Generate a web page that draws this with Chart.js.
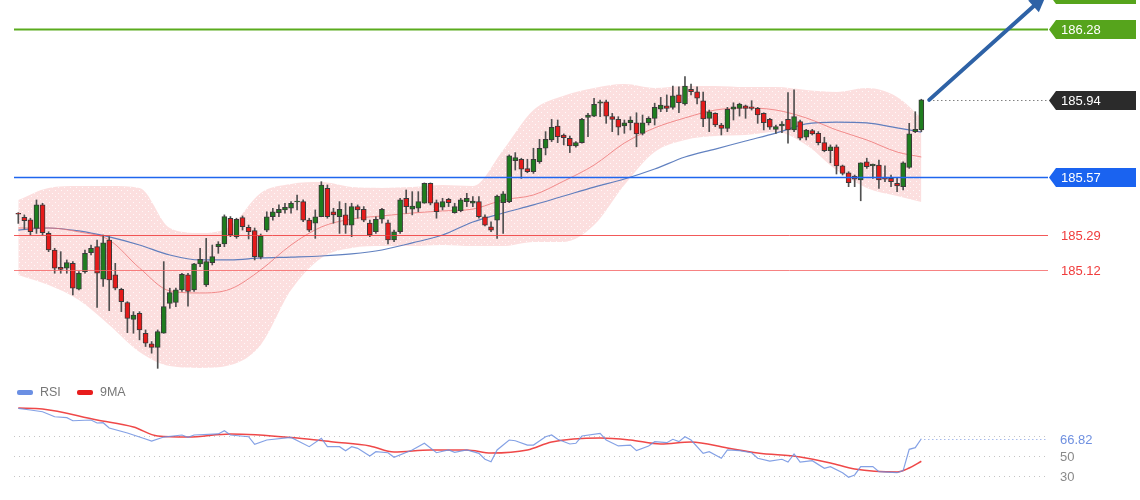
<!DOCTYPE html>
<html>
<head>
<meta charset="utf-8">
<script src="https://cdn.jsdelivr.net/npm/chart.js"></script>
<style>
  html, body { margin:0; padding:0; background:#fff; }
  #wrap { position:relative; width:1140px; height:500px; overflow:hidden; background:#fff; }
  #main { position:absolute; left:0; top:0; }
  #rsi  { position:absolute; left:0; top:380px; }
</style>
</head>
<body>
<div id="wrap">
  <canvas id="main" width="1140" height="380"></canvas>
  <canvas id="rsi" width="1140" height="120"></canvas>
</div>
<script>
// candles, one per bar index 0..149
const opens = [
185.394,185.374,185.362,185.321,185.434,185.297,185.217,185.134,185.129,185.153,
185.028,185.113,185.204,185.233,185.076,185.265,185.097,185.028,184.964,184.883,
184.912,184.816,184.765,184.748,184.816,184.960,184.964,185.025,185.097,185.025,
185.150,185.049,185.156,185.233,185.246,185.370,185.281,185.373,185.326,185.310,
185.183,185.313,185.377,185.397,185.410,185.418,185.448,185.450,185.361,185.346,
185.377,185.514,185.401,185.377,185.386,185.337,185.426,185.413,185.346,185.305,
185.365,185.348,185.265,185.305,185.466,185.413,185.418,185.442,185.538,185.445,
185.423,185.461,185.397,185.406,185.450,185.442,185.450,185.377,185.329,185.361,
185.445,185.450,185.647,185.654,185.609,185.594,185.642,185.707,185.747,185.814,
185.771,185.755,185.718,185.734,185.856,185.862,185.924,185.931,185.859,185.846,
185.814,185.830,185.830,185.779,185.830,185.851,185.895,185.911,185.904,185.964,
185.920,185.991,185.979,185.935,185.851,185.875,185.819,185.803,185.895,185.899,
185.911,185.907,185.899,185.875,185.846,185.798,185.814,185.846,185.795,185.835,
185.760,185.792,185.779,185.734,185.695,185.714,185.622,185.589,185.573,185.554,
185.642,185.622,185.626,185.567,185.562,185.538,185.522,185.615,185.787,185.795];
const highs = [
185.397,185.386,185.370,185.458,185.442,185.305,185.225,185.209,185.169,185.161,
185.113,185.217,185.241,185.265,185.289,185.281,185.153,185.033,184.968,184.920,
184.920,184.832,184.776,184.832,185.161,185.033,185.033,185.105,185.105,185.153,
185.225,185.273,185.241,185.257,185.386,185.378,185.370,185.381,185.337,185.323,
185.294,185.401,185.418,185.434,185.442,185.450,185.482,185.458,185.370,185.410,
185.546,185.530,185.418,185.450,185.442,185.442,185.434,185.426,185.361,185.377,
185.418,185.361,185.313,185.466,185.506,185.498,185.498,185.540,185.540,185.458,
185.466,185.466,185.442,185.466,185.490,185.474,185.474,185.386,185.353,185.482,
185.498,185.675,185.686,185.659,185.654,185.707,185.750,185.787,185.846,185.843,
185.776,185.766,185.739,185.851,185.875,185.948,185.939,185.939,185.875,185.859,
185.843,185.859,185.878,185.867,185.859,185.924,185.952,185.964,186.007,186.003,
186.052,186.016,186.003,185.978,185.891,185.878,185.827,185.904,185.926,185.924,
185.915,185.936,185.904,185.878,185.851,185.819,185.835,185.975,185.988,185.843,
185.798,185.798,185.787,185.760,185.723,185.723,185.626,185.594,185.578,185.637,
185.659,185.631,185.650,185.622,185.578,185.562,185.642,185.827,185.883,185.943];
const lows = [
185.345,185.317,185.289,185.297,185.289,185.209,185.105,185.105,185.105,185.000,
185.025,185.105,185.193,184.941,185.041,184.925,185.025,184.920,184.819,184.816,
184.784,184.752,184.720,184.647,184.816,184.936,184.944,185.017,184.947,185.017,
185.137,185.041,185.145,185.201,185.233,185.281,185.273,185.313,185.270,185.169,
185.174,185.305,185.361,185.377,185.394,185.394,185.410,185.353,185.305,185.273,
185.377,185.370,185.346,185.297,185.297,185.281,185.370,185.353,185.281,185.297,
185.346,185.246,185.257,185.297,185.394,185.386,185.401,185.442,185.434,185.370,
185.410,185.426,185.394,185.401,185.426,185.426,185.370,185.333,185.305,185.273,
185.297,185.445,185.602,185.562,185.589,185.586,185.634,185.675,185.739,185.734,
185.723,185.686,185.712,185.731,185.763,185.859,185.859,185.827,185.787,185.771,
185.779,185.795,185.714,185.771,185.819,185.819,185.883,185.883,185.895,185.878,
185.915,185.964,185.920,185.811,185.787,185.811,185.771,185.787,185.843,185.862,
185.851,185.891,185.827,185.795,185.798,185.779,185.782,185.731,185.787,185.747,
185.747,185.771,185.723,185.690,185.637,185.583,185.578,185.522,185.522,185.454,
185.610,185.562,185.514,185.546,185.522,185.498,185.506,185.610,185.782,185.787];
const closes = [
185.389,185.358,185.305,185.434,185.301,185.217,185.129,185.124,185.156,185.033,
185.105,185.201,185.225,185.105,185.252,185.073,185.033,184.968,184.888,184.904,
184.832,184.768,184.748,184.824,184.944,185.012,185.025,185.100,185.017,185.150,
185.172,185.161,185.185,185.246,185.378,185.289,185.365,185.329,185.305,185.185,
185.284,185.377,185.401,185.413,185.423,185.442,185.451,185.361,185.313,185.377,
185.530,185.377,185.386,185.413,185.337,185.426,185.410,185.361,185.289,185.365,
185.413,185.265,185.305,185.458,185.426,185.429,185.450,185.538,185.442,185.401,
185.450,185.445,185.426,185.458,185.466,185.453,185.377,185.337,185.313,185.477,
185.487,185.670,185.662,185.606,185.594,185.654,185.707,185.750,185.808,185.763,
185.758,185.718,185.734,185.846,185.867,185.919,185.931,185.862,185.846,185.808,
185.830,185.843,185.776,185.830,185.851,185.904,185.915,185.899,185.959,185.926,
186.007,185.979,185.948,185.848,185.883,185.819,185.803,185.895,185.907,185.920,
185.899,185.899,185.867,185.830,185.808,185.811,185.824,185.795,185.859,185.755,
185.795,185.776,185.734,185.695,185.714,185.622,185.586,185.541,185.558,185.637,
185.618,185.631,185.554,185.558,185.546,185.525,185.637,185.776,185.798,185.940];

// bollinger band + moving averages, read every 5 bars
const lineIdx = [0,5,10,15,20,25,30,35,40,45,50,55,60,65,70,75,80,85,90,95,100,105,110,115,120,125,130,135,140,145,149];
const bbUpper = [185.458,185.516,185.525,185.525,185.516,185.323,185.299,185.333,185.492,185.535,185.544,185.520,185.516,185.520,185.530,185.525,185.699,185.891,185.960,185.997,186.016,185.997,186.007,186.007,186.002,186.002,185.988,185.978,185.997,185.954,185.853];
const bbLower = [185.097,185.048,184.976,184.856,184.726,184.658,184.649,184.663,184.760,185.024,185.179,185.227,185.236,185.236,185.241,185.236,185.236,185.256,185.256,185.337,185.530,185.689,185.747,185.766,185.771,185.785,185.723,185.602,185.516,185.477,185.448];
const maMid   = [185.323,185.323,185.304,185.265,185.130,185.020,185.010,185.029,185.121,185.241,185.328,185.366,185.381,185.395,185.405,185.414,185.458,185.482,185.549,185.626,185.732,185.805,185.853,185.891,185.901,185.891,185.853,185.795,185.747,185.689,185.665];
const maSlow  = [185.313,185.323,185.309,185.280,185.241,185.193,185.169,185.169,185.179,185.183,185.188,185.198,185.217,185.251,185.289,185.352,185.395,185.434,185.477,185.520,185.559,185.607,185.665,185.703,185.742,185.780,185.824,185.833,185.829,185.805,185.785];

// price levels on the right
const levelValues = [186.448, 186.28, 185.94, 185.57, 185.29, 185.12];
const levelLabels = ["186.45", "186.28", "185.94", "185.57", "185.29", "185.12"];

// RSI panel
const rsiIdx = [0,2,4,6,8,9,12,13,14,15,18,19,21,22,24,27,28,29,33,34,35,38,39,41,45,48,50,51,53,54,55,56,58,59,61,62,65,67,69,71,72,74,76,77,78,79,81,82,84,85,87,88,89,91,92,93,96,97,99,101,102,104,105,107,108,109,110,111,113,114,116,117,119,121,122,124,126,127,128,129,131,133,134,136,137,138,139,141,142,145,146,147,148,149];
const rsiVal = [96.5,94.9,93.2,88.3,87.4,84.4,85.1,82.2,82.5,77.3,72.4,70.5,66.6,64.6,68.5,70.5,68.2,70.5,71.5,74.7,70.5,68.8,61.4,65.6,68.2,59.1,67.3,59.1,59.1,55.2,59.1,57.5,50.0,54.2,53.2,48.7,55.9,62.4,53.2,55.9,53.6,55.9,52.6,46.8,44.4,55.9,65.6,64.9,60.7,60.7,68.8,70.5,66.3,61.7,62.4,69.5,72.1,65.6,59.8,60.7,55.2,59.8,64.0,63.0,66.3,64.0,68.8,65.6,52.6,54.2,47.8,55.9,55.2,53.2,47.8,45.1,46.8,44.1,52.0,44.1,45.4,38.0,39.6,33.7,29.2,31.5,39.6,39.6,34.7,33.7,35.7,56.5,58.1,66.82];
const maIdx = [0,4,13,19,23,28,35,46,52,58,62,68,74,78,84,88,96,101,106,111,117,122,129,134,138,145,147,149];
const maVal = [96.8,95.9,85.1,78.3,69.5,68.5,71.5,67.6,63.7,59.8,53.9,55.9,55.9,52.9,55.9,63.7,67.6,65.6,61.7,63.7,57.8,52.9,49.0,43.2,37.3,34.4,38.3,44.9];
const rsiTicks = [30, 50, 70];

const FONT = '"Liberation Sans", Arial, sans-serif';
const xRange = { min: -0.71, max: 169.9 };

const pts = (xs, ys) => xs.map((x, i) => ({ x, y: ys[i] }));

// dotted pink texture for the band
function bandPattern(){
  const c = document.createElement('canvas');
  c.width = 6; c.height = 6;
  const g = c.getContext('2d');
  g.fillStyle = 'rgba(248,178,178,0.42)';
  g.fillRect(0, 0, 6, 6);
  g.fillStyle = 'rgba(255,255,255,0.85)';
  g.fillRect(1, 4, 1, 1);
  g.fillRect(4, 1, 1, 1);
  return g.createPattern(c, 'repeat');
}

const up = closes.map((c, i) => c >= opens[i]);

const levelStyles = [
  { color:'#56a41c', line:null, tag:true },
  { color:'#56a41c', line:'#5aab1e', width:2, tag:true },
  { color:'#2b2b2b', line:'dots', width:1, tag:true },
  { color:'#1a63f0', line:'#1f66ee', width:1.5, tag:true },
  { color:'#f03c3c', line:'rgba(240,60,60,0.85)', width:1, tag:false },
  { color:'#f03c3c', line:'rgba(245,100,100,0.8)', width:1, tag:false }
];
const arrowFrom = { x: 150.3, y: 185.94 };
const arrowTo = { x: 169.6, y: 186.445 };

const levelPlugin = {
  id: 'levels',
  afterDatasetsDraw(chart){
    const { ctx, chartArea: a, scales: { x, y } } = chart;
    ctx.save();
    levelValues.forEach((v, i) => {
      const s = levelStyles[i];
      const py = Math.round(y.getPixelForValue(v)) + 0.5;
      if (s.line === 'dots') {
        ctx.strokeStyle = '#444';
        ctx.lineWidth = 1;
        ctx.setLineDash([1, 3]);
        ctx.beginPath();
        ctx.moveTo(x.getPixelForValue(opens.length - 1) + 8, py);
        ctx.lineTo(a.right, py);
        ctx.stroke();
        ctx.setLineDash([]);
      } else if (s.line) {
        ctx.strokeStyle = s.line;
        ctx.lineWidth = s.width;
        ctx.beginPath();
        ctx.moveTo(a.left, py);
        ctx.lineTo(a.right, py);
        ctx.stroke();
      }
      ctx.font = '13px ' + FONT;
      ctx.textBaseline = 'middle';
      if (s.tag) {
        const h = 19, x0 = a.right + 1, x1 = 1136;
        ctx.fillStyle = s.color;
        ctx.beginPath();
        ctx.moveTo(x0, py);
        ctx.lineTo(x0 + 7, py - h / 2);
        ctx.lineTo(x1, py - h / 2);
        ctx.lineTo(x1, py + h / 2);
        ctx.lineTo(x0 + 7, py + h / 2);
        ctx.closePath();
        ctx.fill();
        ctx.fillStyle = '#fff';
      } else {
        ctx.fillStyle = s.color;
      }
      ctx.fillText(levelLabels[i], a.right + 13, py + 1);
    });

    // trend arrow
    const x0 = x.getPixelForValue(arrowFrom.x), y0 = y.getPixelForValue(arrowFrom.y);
    const x1 = x.getPixelForValue(arrowTo.x), y1 = y.getPixelForValue(arrowTo.y);
    const ang = Math.atan2(y1 - y0, x1 - x0);
    const head = 17;
    ctx.strokeStyle = '#2e62a6';
    ctx.fillStyle = '#2e62a6';
    ctx.lineWidth = 4;
    ctx.lineCap = 'round';
    ctx.beginPath();
    ctx.moveTo(x0, y0);
    ctx.lineTo(x1 - Math.cos(ang) * head * 0.8, y1 - Math.sin(ang) * head * 0.8);
    ctx.stroke();
    ctx.beginPath();
    ctx.moveTo(x1, y1);
    ctx.lineTo(x1 - Math.cos(ang) * head + Math.sin(ang) * 8, y1 - Math.sin(ang) * head - Math.cos(ang) * 8);
    ctx.lineTo(x1 - Math.cos(ang) * head - Math.sin(ang) * 8, y1 - Math.sin(ang) * head + Math.cos(ang) * 8);
    ctx.closePath();
    ctx.fill();
    ctx.restore();
  }
};

new Chart(document.getElementById('main'), {
  type: 'bar',
  data: {
    datasets: [
      { // bodies
        type: 'bar',
        data: opens.map((o, i) => ({ x: i, y: [o, closes[i]] })),
        backgroundColor: up.map(u => u ? '#1f7d1f' : '#e61b1b'),
        borderColor: '#3a3a3a',
        borderWidth: 1,
        borderSkipped: false,
        barThickness: 5,
        minBarLength: 1,
        grouped: false,
        order: 0
      },
      { // wicks
        type: 'bar',
        data: lows.map((l, i) => ({ x: i, y: [l, highs[i]] })),
        backgroundColor: '#505050',
        barThickness: 1,
        grouped: false,
        order: 1
      },
      {
        type: 'line',
        data: pts(lineIdx, bbUpper),
        borderColor: 'transparent',
        borderWidth: 0,
        pointRadius: 0,
        cubicInterpolationMode: 'monotone',
        fill: '+1',
        backgroundColor: bandPattern(),
        order: 3
      },
      {
        type: 'line',
        data: pts(lineIdx, bbLower),
        borderColor: 'transparent',
        borderWidth: 0,
        pointRadius: 0,
        cubicInterpolationMode: 'monotone',
        fill: false,
        order: 3
      },
      {
        type: 'line',
        data: pts(lineIdx, maMid),
        borderColor: 'rgba(238,110,110,0.75)',
        borderWidth: 1,
        pointRadius: 0,
        cubicInterpolationMode: 'monotone',
        fill: false,
        order: 2
      },
      {
        type: 'line',
        data: pts(lineIdx, maSlow),
        borderColor: 'rgba(80,115,185,0.9)',
        borderWidth: 1.2,
        pointRadius: 0,
        cubicInterpolationMode: 'monotone',
        fill: false,
        order: 2
      }
    ]
  },
  options: {
    responsive: false,
    animation: false,
    devicePixelRatio: 1,
    layout: { padding: { left: 14, right: 92, top: 0, bottom: 10 } },
    plugins: { legend: { display: false }, tooltip: { enabled: false } },
    scales: {
      x: { type: 'linear', min: xRange.min, max: xRange.max, offset: false, display: false },
      y: { min: 184.639, max: 186.421, display: false }
    }
  },
  plugins: [levelPlugin]
});

const rsiPlugin = {
  id: 'rsiDeco',
  beforeDatasetsDraw(chart){
    const { ctx, chartArea: a, scales: { y } } = chart;
    ctx.save();
    ctx.strokeStyle = '#c4c4c4';
    ctx.lineWidth = 1;
    ctx.setLineDash([1, 4]);
    rsiTicks.forEach(t => {
      const py = Math.round(y.getPixelForValue(t)) + 0.5;
      ctx.beginPath();
      ctx.moveTo(a.left, py);
      ctx.lineTo(a.right, py);
      ctx.stroke();
    });
    ctx.restore();
  },
  afterDatasetsDraw(chart){
    const { ctx, chartArea: a, scales: { x, y } } = chart;
    ctx.save();
    ctx.font = '13px ' + FONT;
    ctx.textBaseline = 'middle';
    ctx.fillStyle = '#8a8a8a';
    rsiTicks.filter(t => t < 70).forEach(t => {
      ctx.fillText(String(t), a.right + 12, y.getPixelForValue(t) + 1);
    });
    // last RSI value
    const last = rsiVal[rsiVal.length - 1];
    const px = x.getPixelForValue(rsiIdx[rsiIdx.length - 1]);
    const py = Math.round(y.getPixelForValue(last)) + 0.5;
    ctx.strokeStyle = '#7d9be3';
    ctx.setLineDash([1, 3]);
    ctx.beginPath();
    ctx.moveTo(px + 3, py);
    ctx.lineTo(a.right, py);
    ctx.stroke();
    ctx.setLineDash([]);
    ctx.fillStyle = '#6f90e0';
    ctx.fillText(last.toFixed(2), a.right + 12, py + 1);
    // legend
    const items = [['RSI', '#6b8fe3', 17], ['9MA', '#e81c1c', 77]];
    ctx.font = '12.5px ' + FONT;
    items.forEach(([txt, col, lx]) => {
      ctx.fillStyle = col;
      ctx.beginPath();
      ctx.roundRect(lx, 10, 16, 5, 2);
      ctx.fill();
      ctx.fillStyle = '#777';
      ctx.fillText(txt, lx + 23, 13);
    });
    ctx.restore();
  }
};

new Chart(document.getElementById('rsi'), {
  type: 'line',
  data: {
    datasets: [
      {
        label: 'RSI',
        data: pts(rsiIdx, rsiVal),
        borderColor: 'rgba(110,145,225,0.85)',
        borderWidth: 1.2,
        pointRadius: 0,
        fill: false
      },
      {
        label: '9MA',
        data: pts(maIdx, maVal),
        borderColor: 'rgba(236,40,40,0.85)',
        borderWidth: 1.5,
        pointRadius: 0,
        cubicInterpolationMode: 'monotone',
        fill: false
      }
    ]
  },
  options: {
    responsive: false,
    animation: false,
    devicePixelRatio: 1,
    layout: { padding: { left: 14, right: 92, top: 0, bottom: 0 } },
    plugins: { legend: { display: false }, tooltip: { enabled: false } },
    scales: {
      x: { type: 'linear', min: xRange.min, max: xRange.max, display: false },
      y: { min: 7.07, max: 124.15, display: false }
    }
  },
  plugins: [rsiPlugin]
});
</script>
</body>
</html>
